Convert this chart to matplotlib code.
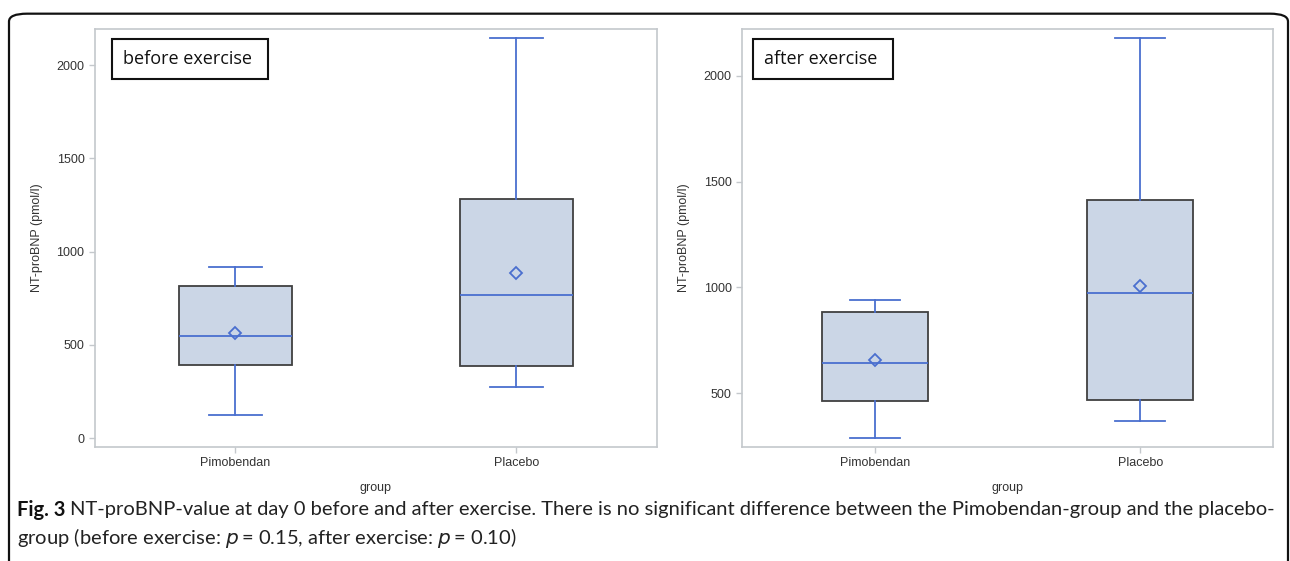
import numpy as np
import matplotlib.pyplot as plt
from matplotlib.patches import FancyBboxPatch

groups = ['Pimobendan', 'Placebo']

# before exercise: whisker low, Q1, median, Q3, whisker high, mean
before_low = [123, 273]
before_q1 = [391, 386]
before_med = [547, 767]
before_q3 = [815, 1282]
before_high = [917, 2145]
before_mean = [563, 885]

# after exercise
after_low = [287, 368]
after_q1 = [462, 467]
after_med = [642, 973]
after_q3 = [883, 1413]
after_high = [940, 2180]
after_mean = [656, 1006]

before_ticks = [0, 500, 1000, 1500, 2000]
after_ticks = [500, 1000, 1500, 2000]

blue = '#4a6fcf'
grey = '#c4c8cc'

def make_stats(low, q1, med, q3, high, mean):
    stats = []
    for i in range(len(groups)):
        stats.append(dict(label=groups[i], whislo=low[i], q1=q1[i], med=med[i],
                          q3=q3[i], whishi=high[i], mean=mean[i], fliers=[]))
    return stats

def draw_panel(ax, stats, ylim, yticks, label, lx):
    ax.bxp(stats, positions=[1, 2], widths=0.4, capwidths=0.19,
           showmeans=True, patch_artist=True,
           boxprops=dict(facecolor='#cbd6e6', edgecolor='#404040', linewidth=1.3),
           whiskerprops=dict(color=blue, linewidth=1.3),
           capprops=dict(color=blue, linewidth=1.3),
           medianprops=dict(color=blue, linewidth=1.3),
           meanprops=dict(marker='D', markerfacecolor='none', markeredgecolor=blue,
                          markeredgewidth=1.3, markersize=6.5))
    ax.set_xlim(0.5, 2.5)
    ax.set_ylim(ylim)
    ax.set_yticks(yticks)
    ax.set_xticks([1, 2])
    ax.set_xticklabels(groups)
    for s in ax.spines.values():
        s.set_color(grey)
        s.set_linewidth(1.2)
    ax.tick_params(colors=grey, length=4, width=1, labelsize=9, labelcolor='#333333')
    ax.set_xlabel('group', fontsize=9, color='#333333', labelpad=9)
    ax.set_ylabel('NT-proBNP (pmol/l)', fontsize=9, color='#333333', labelpad=10)
    ax.text(lx, 0.95, label + ' ', transform=ax.transAxes, fontsize=13,
            family='Open Sans', va='top', ha='left', color='#111111',
            bbox=dict(boxstyle='square,pad=0.6', facecolor='white',
                      edgecolor='#111111', linewidth=1.5))

plt.rcParams['font.family'] = ['Liberation Sans', 'DejaVu Sans']
fig = plt.figure(figsize=(12.9, 5.61), dpi=100)

ax1 = fig.add_axes([0.0736, 0.2032, 0.4357, 0.7451])
ax2 = fig.add_axes([0.5752, 0.2032, 0.4116, 0.7451])

draw_panel(ax1, make_stats(before_low, before_q1, before_med, before_q3, before_high, before_mean),
           (-48, 2193), before_ticks, 'before exercise', 0.05)
draw_panel(ax2, make_stats(after_low, after_q1, after_med, after_q3, after_high, after_mean),
           (245, 2222), after_ticks, 'after exercise', 0.042)

# outer frame with rounded top corners
frame = FancyBboxPatch((9 / 1290, -0.2), 1279 / 1290, 1.2 - 12 / 561 - 0.003,
                       boxstyle='round,pad=0,rounding_size=0.014',
                       transform=fig.transFigure, facecolor='none',
                       edgecolor='#111111', linewidth=1.6, clip_on=False)
fig.patches.append(frame)

cap_font = 'Lato'
cap_size = 14.5
y1 = 1 - 510 / 561
y2 = 1 - 538 / 561
t_bold = fig.text(17 / 1290, y1, 'Fig. 3', fontsize=cap_size, fontweight='bold',
                  va='center', ha='left', family=cap_font, color='#111111')
fig.canvas.draw()
bb = t_bold.get_window_extent(renderer=fig.canvas.get_renderer())
x_next = (bb.x1 + 5) / fig.bbox.width
fig.text(x_next, y1,
         'NT-proBNP-value at day 0 before and after exercise. There is no significant '
         'difference between the Pimobendan-group and the placebo-',
         fontsize=cap_size, va='center', ha='left', family=cap_font, color='#222222')
fig.text(17 / 1290, y2,
         'group (before exercise: $p\\,$= 0.15, after exercise: $p\\,$= 0.10)',
         fontsize=cap_size, va='center', ha='left', family=cap_font, color='#222222')

plt.savefig('out.png', dpi=100)
